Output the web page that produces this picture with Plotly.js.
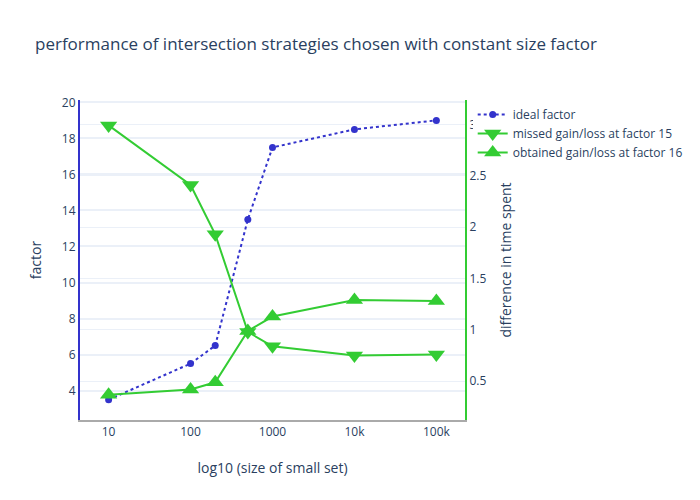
<!DOCTYPE html>
<html>
<head>
<meta charset="utf-8">
<script src="https://cdn.plot.ly/plotly-3.0.1.min.js"></script>
<style>html,body{margin:0;padding:0;background:#fff;}#chart{width:700px;height:500px;}</style>
</head>
<body>
<div id="chart"></div>
<script>
const sizes = [10, 100, 200, 500, 1000, 10000, 100000];
const idealFactor = [3.5, 5.5, 6.5, 13.5, 17.5, 18.5, 19];
const missedGain15 = [2.99, 2.41, 1.93, 0.98, 0.84, 0.75, 0.76];
const obtainedGain16 = [0.37, 0.42, 0.49, 0.99, 1.13, 1.29, 1.28];
const tickVals = [10, 100, 1000, 10000, 100000];
const tickText = ['10', '100', '1000', '10k', '100k'];

const blue = '#3333cc';
const green = '#33cc33';

const traces = [
  {x: sizes, y: idealFactor, name: 'ideal factor', type: 'scatter', mode: 'lines+markers',
   line: {color: blue, dash: 'dot', width: 2}, marker: {color: blue, size: 7}},
  {x: sizes, y: missedGain15, name: 'missed gain/loss at factor 15', type: 'scatter', mode: 'lines+markers',
   yaxis: 'y2', line: {color: green, width: 2}, marker: {color: green, size: 15, symbol: 'triangle-down'}},
  {x: sizes, y: obtainedGain16, name: 'obtained gain/loss at factor 16', type: 'scatter', mode: 'lines+markers',
   yaxis: 'y2', line: {color: green, width: 2}, marker: {color: green, size: 15, symbol: 'triangle-up'}}
];

const layout = {
  width: 700, height: 500,
  paper_bgcolor: '#fff', plot_bgcolor: '#fff',
  font: {family: '"Open Sans", verdana, arial, sans-serif', color: '#2a3f5f', size: 12},
  title: {text: 'performance of intersection strategies chosen with constant size factor', font: {size: 17}, x: 0.05, xanchor: 'left'},
  xaxis: {type: 'log', title: {text: 'log10 (size of small set)'}, tickvals: tickVals, ticktext: tickText,
          showgrid: false, showline: true, linecolor: '#aaaaaa', linewidth: 2, zeroline: false},
  yaxis: {title: {text: 'factor'}, showline: true, linecolor: blue, linewidth: 2,
          gridcolor: '#EBF0F8', gridwidth: 2, zeroline: false, dtick: 2},
  yaxis2: {title: {text: 'difference in time spent'}, overlaying: 'y', side: 'right', showline: true,
           linecolor: green, linewidth: 2, gridcolor: '#EBF0F8', gridwidth: 1, zeroline: false, dtick: 0.5},
  legend: {font: {size: 12}}
};

Plotly.newPlot('chart', traces, layout, {displayModeBar: false});
</script>
</body>
</html>
